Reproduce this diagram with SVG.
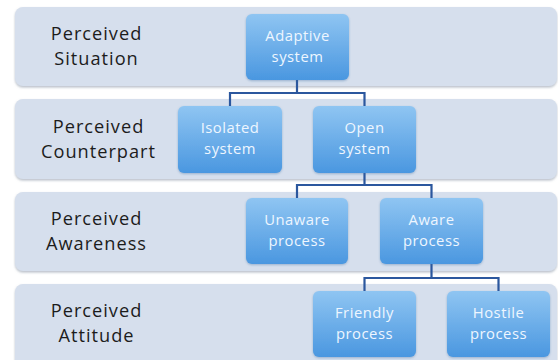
<svg xmlns="http://www.w3.org/2000/svg" width="558" height="360" viewBox="0 0 558 360">
  <defs>
    <linearGradient id="nodeFill" x1="0" y1="0" x2="0" y2="1">
      <stop offset="0" stop-color="#8fc5f2"/>
      <stop offset="1" stop-color="#4a97e0"/>
    </linearGradient>
    <filter id="bandShadow" x="-5%" y="-10%" width="110%" height="130%">
      <feDropShadow dx="0" dy="1.5" stdDeviation="1" flood-color="#8a94a6" flood-opacity="0.6"/>
    </filter>
    <filter id="nodeShadow" x="-10%" y="-10%" width="120%" height="130%">
      <feDropShadow dx="0" dy="1" stdDeviation="1" flood-color="#3a6aa0" flood-opacity="0.4"/>
    </filter>
  </defs>
  <style>
    .band { fill: #d6dfed; filter: url(#bandShadow); }
    .bandLabel { font-family: "Open Sans", "Liberation Sans", sans-serif; font-size: 18.2px; letter-spacing: 1px; fill: #1c1c1c; text-anchor: middle; }
    .node rect { fill: url(#nodeFill); filter: url(#nodeShadow); }
    .node text { font-family: "Open Sans", "Liberation Sans", sans-serif; font-size: 14.8px; letter-spacing: 0.5px; fill: #eef6ff; text-anchor: middle; }
    .conn { fill: none; stroke: #2b579e; stroke-width: 2.2; }
  </style>
  <rect width="558" height="360" fill="#ffffff"/>

  <!-- level bands -->
  <g id="band-situation">
    <rect class="band" x="15" y="7" width="542" height="79" rx="8"/>
    <text class="bandLabel" x="96.5" y="40">Perceived</text>
    <text class="bandLabel" x="96.5" y="65">Situation</text>
  </g>
  <g id="band-counterpart">
    <rect class="band" x="15" y="99" width="542" height="80" rx="8"/>
    <text class="bandLabel" x="98.5" y="133">Perceived</text>
    <text class="bandLabel" x="98.5" y="158">Counterpart</text>
  </g>
  <g id="band-awareness">
    <rect class="band" x="15" y="192" width="542" height="79" rx="8"/>
    <text class="bandLabel" x="96.5" y="225">Perceived</text>
    <text class="bandLabel" x="96.5" y="250">Awareness</text>
  </g>
  <g id="band-attitude">
    <rect class="band" x="15" y="284" width="542" height="86" rx="8"/>
    <text class="bandLabel" x="96.5" y="317">Perceived</text>
    <text class="bandLabel" x="96.5" y="342">Attitude</text>
  </g>

  <!-- tree connectors -->
  <g id="connectors">
    <path class="conn" d="M297 80 V93 M230 106 V93 H364.5 V106"/>
    <path class="conn" d="M364.5 173 V185 M297 198 V185 H431.5 V198"/>
    <path class="conn" d="M431.5 264 V278 M364.5 291 V278 H498.5 V291"/>
  </g>

  <!-- nodes -->
  <g id="adaptive-system" class="node">
    <rect x="246" y="14" width="103" height="66" rx="6"/>
    <text x="297.5" y="41">Adaptive</text>
    <text x="297.5" y="61.5">system</text>
  </g>
  <g id="isolated-system" class="node">
    <rect x="178" y="106" width="104" height="67" rx="6"/>
    <text x="230" y="133">Isolated</text>
    <text x="230" y="153.5">system</text>
  </g>
  <g id="open-system" class="node">
    <rect x="313" y="106" width="103" height="67" rx="6"/>
    <text x="364.5" y="133">Open</text>
    <text x="364.5" y="153.5">system</text>
  </g>
  <g id="unaware-process" class="node">
    <rect x="246" y="198" width="102" height="66" rx="6"/>
    <text x="297" y="225">Unaware</text>
    <text x="297" y="245.5">process</text>
  </g>
  <g id="aware-process" class="node">
    <rect x="380" y="198" width="103" height="66" rx="6"/>
    <text x="431.5" y="225">Aware</text>
    <text x="431.5" y="245.5">process</text>
  </g>
  <g id="friendly-process" class="node">
    <rect x="313" y="291" width="103" height="66" rx="6"/>
    <text x="364.5" y="318">Friendly</text>
    <text x="364.5" y="338.5">process</text>
  </g>
  <g id="hostile-process" class="node">
    <rect x="447" y="291" width="103" height="66" rx="6"/>
    <text x="498.5" y="318">Hostile</text>
    <text x="498.5" y="338.5">process</text>
  </g>
</svg>
